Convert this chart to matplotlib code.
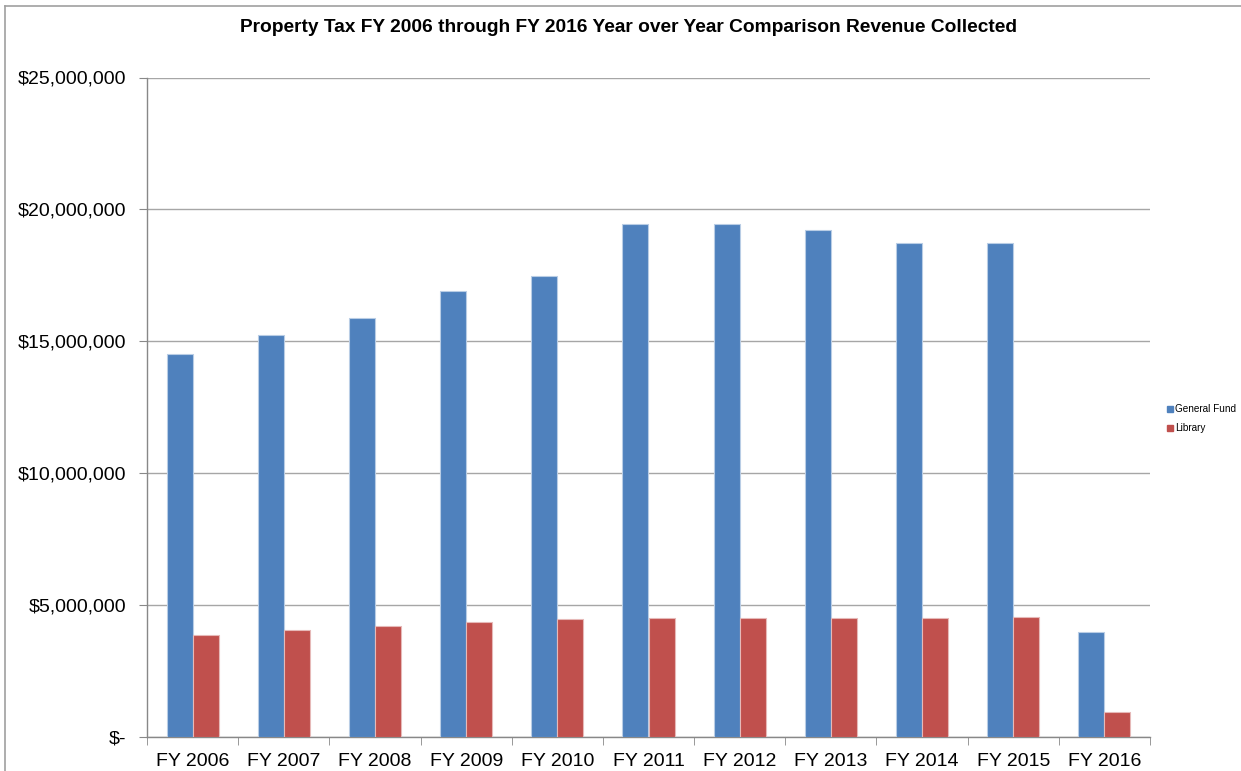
import matplotlib
matplotlib.use("Agg")
import matplotlib.pyplot as plt
import numpy as np
from matplotlib.ticker import FuncFormatter
from matplotlib.lines import Line2D

categories = ["FY 2006", "FY 2007", "FY 2008", "FY 2009", "FY 2010", "FY 2011",
              "FY 2012", "FY 2013", "FY 2014", "FY 2015", "FY 2016"]
general_fund = [14520000, 15220000, 15870000, 16910000, 17460000, 19430000,
                19430000, 19220000, 18710000, 18710000, 3990000]
library = [3850000, 4050000, 4210000, 4370000, 4470000, 4500000,
           4500000, 4500000, 4500000, 4530000, 930000]
series_names = ["General Fund", "Library"]
title = "Property Tax FY 2006 through FY 2016 Year over Year Comparison Revenue Collected"

plt.rcParams['font.family'] = ['Liberation Sans', 'DejaVu Sans']

fig = plt.figure(figsize=(12.41, 7.71), dpi=100)
ax = fig.add_axes([147/1241, (771-736.8)/771, (1150-147)/1241, (736.8-77.5)/771])

x = np.arange(len(categories))
w = 1/3.5
blue = "#4f81bd"
red = "#c0504d"
ax.bar(x - w/2, general_fund, width=w, color=blue, edgecolor="#b9cde5", linewidth=0.8,
       label=series_names[0], zorder=3)
ax.bar(x + w/2, library, width=w, color=red, edgecolor="#e6b9b8", linewidth=0.8,
       label=series_names[1], zorder=3)

ax.set_xlim(-0.5, len(categories) - 0.5)
ax.set_ylim(0, 25000000)
ax.set_yticks(np.arange(0, 25000001, 5000000))

def fmt(v, pos):
    if v == 0:
        return "$-"
    return "${:,.0f}".format(v)
ax.yaxis.set_major_formatter(FuncFormatter(fmt))

ax.set_xticks(x)
ax.set_xticklabels(categories)
ax.set_xticks(np.arange(-0.5, len(categories), 1.0), minor=True)
ax.tick_params(axis='x', which='major', length=0, pad=12, labelsize=14)
ax.tick_params(axis='x', which='minor', length=6, color="#888888", direction='out')
ax.tick_params(axis='y', which='major', length=6, color="#888888", direction='out',
               labelsize=14, pad=9)

ax.grid(axis='y', color="#a6a6a6", linewidth=1.0, zorder=0)
ax.set_axisbelow(True)
for s in ['top', 'right']:
    ax.spines[s].set_visible(False)
for s in ['left', 'bottom']:
    ax.spines[s].set_color("#888888")
    ax.spines[s].set_linewidth(1.0)

fig.text(628/1241, 1 - 27/771, title, ha='center', va='center', fontsize=13.8,
         fontweight='bold')

handles = [plt.Rectangle((0, 0), 1, 1, color=blue), plt.Rectangle((0, 0), 1, 1, color=red)]
fig.legend(handles, series_names, loc='center left', bbox_to_anchor=(1158/1241, 1 - 419/771),
           frameon=False, fontsize=7.2, handlelength=0.6, handleheight=0.6,
           handletextpad=0.2, labelspacing=0.9)

# outer chart frame (top and left visible)
fig.add_artist(Line2D([5/1241, 5/1241], [0, 1 - 6/771], transform=fig.transFigure,
                      color="#a0a0a0", linewidth=1.2))
fig.add_artist(Line2D([5/1241, 1], [1 - 6/771, 1 - 6/771], transform=fig.transFigure,
                      color="#a0a0a0", linewidth=1.2))

fig.savefig("out.png", dpi=100)
